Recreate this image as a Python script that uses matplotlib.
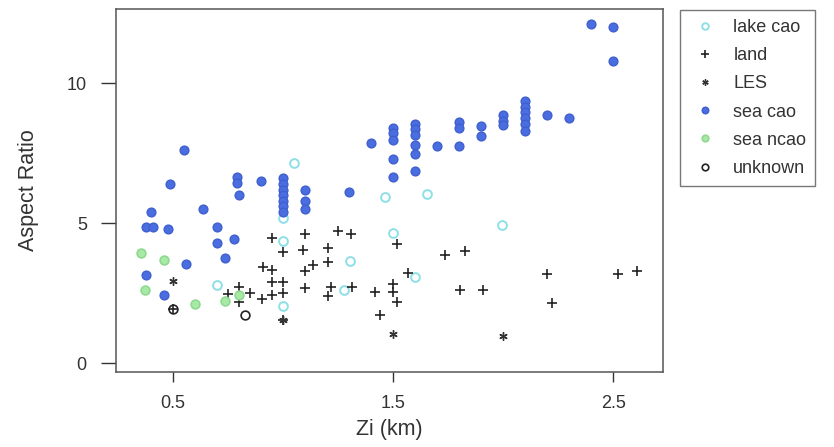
import matplotlib
matplotlib.use('Agg')
import matplotlib.pyplot as plt

plt.rcParams['font.family'] = ['Liberation Sans', 'DejaVu Sans']

# ---- data (Zi in km, aspect ratio) ----
lake_cao_x = [1.05, 1.0, 1.0, 1.0, 0.70, 1.465, 1.655, 1.5, 1.305, 1.60, 1.28, 1.995]
lake_cao_y = [7.15, 5.2, 4.36, 2.05, 2.8, 5.93, 6.04, 4.64, 3.65, 3.08, 2.6, 4.93]

land_x = [0.50, 0.75, 0.80, 0.80, 0.85, 0.905, 0.95, 0.95, 0.91, 0.95, 0.95,
          1.0, 1.0, 1.0, 1.0, 1.10, 1.09, 1.10, 1.135, 1.10, 1.205, 1.205,
          1.22, 1.205, 1.25, 1.31, 1.315, 1.42, 1.44, 1.5, 1.5, 1.52, 1.52,
          1.57, 1.735, 1.825, 1.805, 1.91, 2.20, 2.22, 2.52, 2.61]
land_y = [1.93, 2.47, 2.73, 2.2, 2.5, 2.3, 4.47, 3.33, 3.44, 2.9, 2.44,
          3.96, 2.9, 2.51, 1.55, 4.6, 4.04, 3.3, 3.5, 2.68, 4.1, 3.6,
          2.73, 2.4, 4.73, 4.61, 2.73, 2.55, 1.73, 2.82, 2.55, 2.18, 4.26,
          3.21, 3.86, 4.0, 2.6, 2.6, 3.18, 2.15, 3.2, 3.3]

les_x = [0.50, 1.0, 1.5, 2.0]
les_y = [2.95, 1.55, 1.05, 0.98]

sea_cao_x = [0.40, 0.38, 0.41, 0.48, 0.49, 0.55, 0.64, 0.70, 0.70, 0.78, 0.74, 0.56, 0.38, 0.46,
             0.79, 0.79, 0.80, 0.90,
             1.0, 1.0, 1.0, 1.0, 1.0, 1.0, 1.0,
             1.1, 1.1, 1.1, 1.3, 1.4,
             1.5, 1.5, 1.5, 1.5, 1.5,
             1.6, 1.6, 1.6, 1.6, 1.6, 1.6,
             1.7, 1.8, 1.8, 1.8, 1.9, 1.9,
             2.0, 2.0, 2.0,
             2.1, 2.1, 2.1, 2.1, 2.1, 2.1,
             2.2, 2.3, 2.4, 2.5, 2.5]
sea_cao_y = [5.4, 4.85, 4.85, 4.8, 6.4, 7.6, 5.5, 4.85, 4.3, 4.45, 3.75, 3.55, 3.15, 2.45,
             6.65, 6.45, 6.0, 6.5,
             6.6, 6.4, 6.2, 6.0, 5.8, 5.6, 5.4,
             6.2, 5.8, 5.5, 6.12, 7.86,
             8.4, 8.2, 7.95, 7.3, 6.65,
             8.55, 8.35, 8.15, 7.8, 7.45, 6.85,
             7.75, 8.6, 8.4, 7.75, 8.45, 8.1,
             8.85, 8.65, 8.5,
             9.35, 9.15, 8.95, 8.75, 8.55, 8.3,
             8.85, 8.75, 12.1, 12.0, 10.8]

sea_ncao_x = [0.355, 0.46, 0.375, 0.60, 0.74, 0.80]
sea_ncao_y = [3.95, 3.67, 2.62, 2.12, 2.24, 2.44]

unknown_x = [0.50, 0.83]
unknown_y = [1.93, 1.72]

x_ticks = [0.5, 1.5, 2.5]
y_ticks = [0, 5, 10]

# ---- figure ----
fig = plt.figure(figsize=(8.34, 4.47), dpi=100)
ax = fig.add_axes([116/834, 1 - 372/447, (663 - 116)/834, (372 - 9)/447])

ax.plot(lake_cao_x, lake_cao_y, 'o', ms=6.3, mfc='none', mec='#8ee0e6', mew=1.4, label='lake cao')
ax.plot(land_x, land_y, '+', ms=7, color='#222222', mew=1.2, label='land')
ax.plot(les_x, les_y, ls='none', marker=(6, 2, 0), ms=6, color='#333333', mew=1.0, label='LES')
ax.plot(sea_cao_x, sea_cao_y, 'o', ms=6.3, color='#4a6ee0', mec='#3f5fcf', label='sea cao')
ax.plot(sea_ncao_x, sea_ncao_y, 'o', ms=6.3, mfc='#a6eaa6', mec='#8fd88f', mew=1.2, label='sea ncao')
ax.plot(unknown_x, unknown_y, 'o', ms=6.3, mfc='none', mec='#222222', mew=1.2, label='unknown')

ax.set_xlim(0.243, 2.726)
ax.set_ylim(-0.31, 12.64)
ax.set_xticks(x_ticks)
ax.set_xticklabels(['0.5', '1.5', '2.5'])
ax.set_yticks(y_ticks)
ax.tick_params(axis='y', length=11, width=1, pad=10, labelsize=13, colors='#333333')
ax.tick_params(axis='x', length=7.5, width=1, pad=9, labelsize=13, colors='#333333')
for s in ax.spines.values():
    s.set_color('#555555')
    s.set_linewidth(1.1)

ax.set_xlabel('Zi (km)', fontsize=15.5, color='#333333', labelpad=5)
ax.set_ylabel('Aspect Ratio', fontsize=15.5, color='#333333', labelpad=20)

leg = ax.legend(loc='upper left', bbox_to_anchor=(680/834, 1 - 10/447),
                bbox_transform=fig.transFigure, frameon=True, fancybox=False,
                fontsize=13, handlelength=1.8, handletextpad=0.65, borderpad=0.5,
                labelspacing=0.62, markerscale=0.75, borderaxespad=0)
leg.get_frame().set_edgecolor('#555555')
leg.get_frame().set_linewidth(1.0)
for t in leg.get_texts():
    t.set_color('#333333')

fig.savefig('out.png', dpi=100)
